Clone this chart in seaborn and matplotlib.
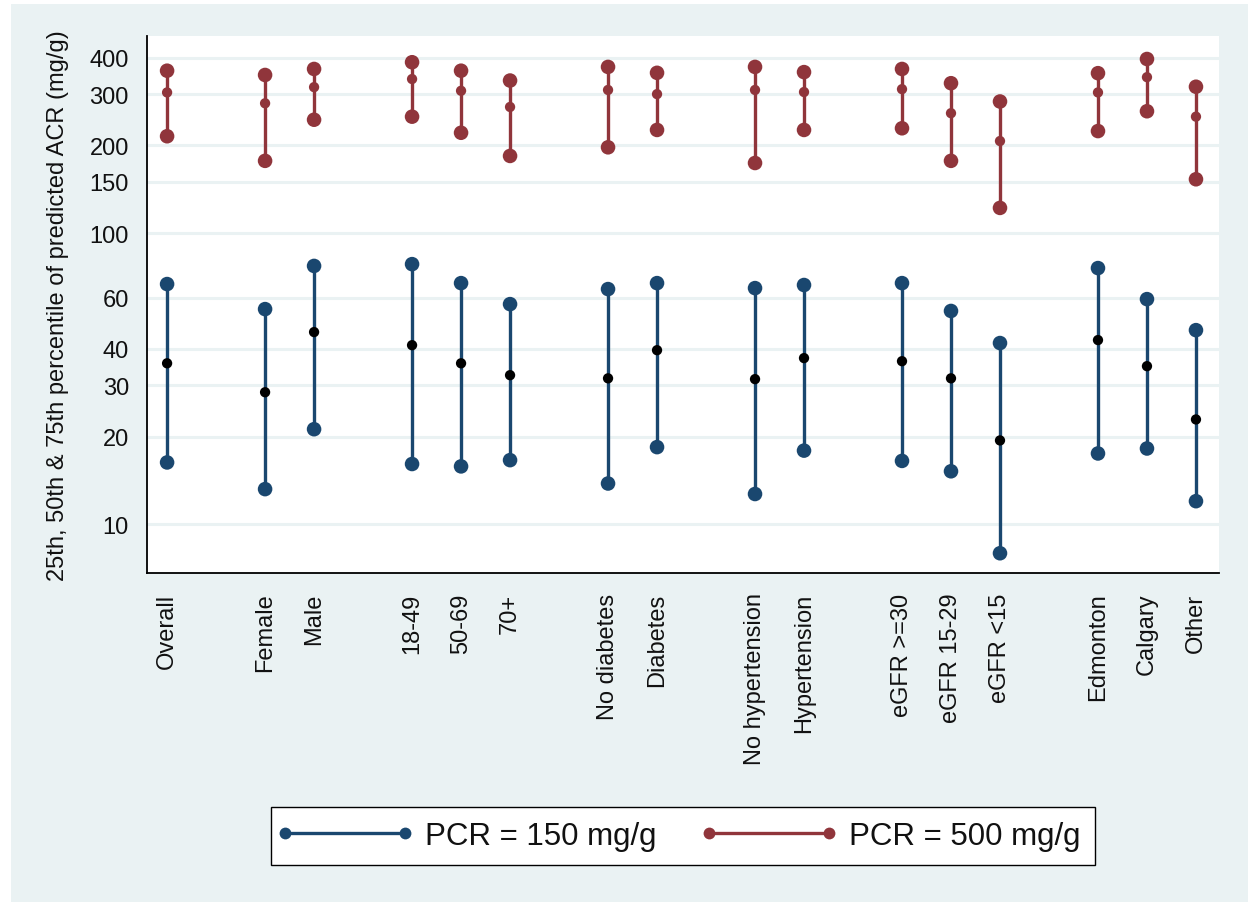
import numpy as np
import pandas as pd
import matplotlib
matplotlib.use("Agg")
import matplotlib.pyplot as plt
from matplotlib.lines import Line2D
from matplotlib.legend_handler import HandlerLine2D
from matplotlib.patches import Rectangle
import seaborn as sns

# Subgroups, listed in display order; blocks are separated by an empty slot
group_blocks = [
    ["Overall"],
    ["Female", "Male"],
    ["18-49", "50-69", "70+"],
    ["No diabetes", "Diabetes"],
    ["No hypertension", "Hypertension"],
    ["eGFR >=30", "eGFR 15-29", "eGFR <15"],
    ["Edmonton", "Calgary", "Other"],
]
categories = [c for block in group_blocks for c in block]

# Predicted ACR (mg/g) percentiles at PCR = 150 mg/g
pcr150_p25 = [16.3, 13.2, 21.2, 16.1, 15.8, 16.6, 13.8, 18.4, 12.7, 17.9, 16.5, 15.2, 7.95, 17.5, 18.2, 12.0]
pcr150_p50 = [35.7, 28.4, 45.7, 41.2, 35.7, 32.5, 31.7, 39.6, 31.5, 37.2, 36.3, 31.7, 19.4, 42.9, 34.9, 22.9]
pcr150_p75 = [66.8, 54.8, 77.1, 78.2, 67.3, 57.0, 64.2, 67.3, 64.7, 66.3, 67.3, 54.0, 41.9, 75.8, 59.3, 46.4]

# Predicted ACR (mg/g) percentiles at PCR = 500 mg/g
pcr500_p25 = [215, 177, 245, 251, 221, 184, 197, 226, 174, 226, 229, 177, 122, 224, 262, 153]
pcr500_p50 = [304, 279, 317, 338, 308, 271, 310, 300, 310, 305, 312, 258, 207, 304, 343, 251]
pcr500_p75 = [361, 349, 366, 386, 361, 334, 372, 355, 372, 357, 366, 327, 283, 354, 396, 318]

series_labels = ["PCR = 150 mg/g", "PCR = 500 mg/g"]
y_ticks = [10, 20, 30, 40, 60, 100, 150, 200, 300, 400]

# x slot of every subgroup (one blank slot between blocks)
positions = []
slot = 0
for block in group_blocks:
    for _ in block:
        positions.append(slot)
        slot += 1
    slot += 1

NAVY = "#1A476F"
MAROON = "#90353B"
BG = "#EAF2F3"

sns.set_theme(style="white")
plt.rcParams["font.family"] = ["Liberation Sans", "DejaVu Sans"]

fig = plt.figure(figsize=(12.48, 9.03), dpi=100, facecolor="white")
fig.patches.append(Rectangle((11 / 1248, 0), 1, 1 - 5 / 903, transform=fig.transFigure,
                             facecolor=BG, edgecolor="none", zorder=-10))
ax = fig.add_axes([147 / 1248, 1 - 574 / 903, (1219 - 147) / 1248, (574 - 37) / 903])
ax.set_facecolor("white")

frames = []
for label, p25, p50, p75 in [
    (series_labels[0], pcr150_p25, pcr150_p50, pcr150_p75),
    (series_labels[1], pcr500_p25, pcr500_p50, pcr500_p75),
]:
    frames.append(pd.DataFrame({
        "series": label, "group": categories, "pos": positions,
        "p25": p25, "p50": p50, "p75": p75,
    }))
wide = pd.concat(frames, ignore_index=True)
ends = wide.melt(id_vars=["series", "group", "pos"], value_vars=["p25", "p75"],
                 var_name="pct", value_name="acr")

palette = {series_labels[0]: NAVY, series_labels[1]: MAROON}

ax.set_yscale("log")

# vertical range lines (25th to 75th percentile)
for label in series_labels:
    sub = ends[ends["series"] == label]
    sns.lineplot(data=sub, x="pos", y="acr", units="group", estimator=None, sort=False,
                 color=palette[label], linewidth=2.4, ax=ax, legend=False, zorder=3)

# percentile end markers
sns.scatterplot(data=ends, x="pos", y="acr", hue="series", palette=palette,
                s=110, marker="o", edgecolor="none", linewidth=0, ax=ax, legend=False, zorder=4)

# medians
med150 = wide[wide["series"] == series_labels[0]]
med500 = wide[wide["series"] == series_labels[1]]
sns.scatterplot(data=med150, x="pos", y="p50", color="black", s=55, edgecolor="none",
                linewidth=0, ax=ax, legend=False, zorder=5)
sns.scatterplot(data=med500, x="pos", y="p50", color=MAROON, s=55, edgecolor="none",
                linewidth=0, ax=ax, legend=False, zorder=5)

ax.set_xlim(-0.41, 21.47)
ax.set_ylim(6.8, 475)
ax.set_yticks(y_ticks)
ax.set_yticklabels([str(t) for t in y_ticks])
ax.yaxis.set_minor_locator(matplotlib.ticker.NullLocator())
ax.set_xticks(positions)
ax.set_xticklabels(categories, rotation=90, va="top", ha="center")

ax.grid(False)
for t in y_ticks:
    ax.axhline(t, color=BG, linewidth=2.2, zorder=0)

for side in ["top", "right"]:
    ax.spines[side].set_visible(False)
for side in ["left", "bottom"]:
    ax.spines[side].set_color("black")
    ax.spines[side].set_linewidth(1.3)

ax.tick_params(axis="both", which="major", direction="out", length=6, width=1.3,
               color="black", labelsize=17, labelcolor="#111111")
ax.tick_params(axis="y", pad=7)
ax.tick_params(axis="x", pad=8)
ax.set_xlabel("")
ax.set_ylabel("25th, 50th & 75th percentile of predicted ACR (mg/g)", fontsize=17,
              color="#111111", va="center")
ax.yaxis.set_label_coords(-0.083, 0.5)

handles = [
    Line2D([], [], color=NAVY, lw=2.4, marker="o", markersize=8.5, markeredgewidth=0),
    Line2D([], [], color=MAROON, lw=2.4, marker="o", markersize=8.5, markeredgewidth=0),
]
leg = fig.legend(handles, series_labels, loc="center", bbox_to_anchor=(0.547, 0.0731),
                 ncol=2, numpoints=2, fontsize=22.5, frameon=True, fancybox=False,
                 framealpha=1, facecolor="white", edgecolor="black",
                 handlelength=3.84, handletextpad=0.64, columnspacing=1.7,
                 borderpad=0.45, borderaxespad=0,
                 handler_map={Line2D: HandlerLine2D(marker_pad=0)})
leg.get_frame().set_linewidth(1.0)
for txt in leg.get_texts():
    txt.set_color("#111111")

fig.savefig("out.png", dpi=100, facecolor=fig.get_facecolor())
